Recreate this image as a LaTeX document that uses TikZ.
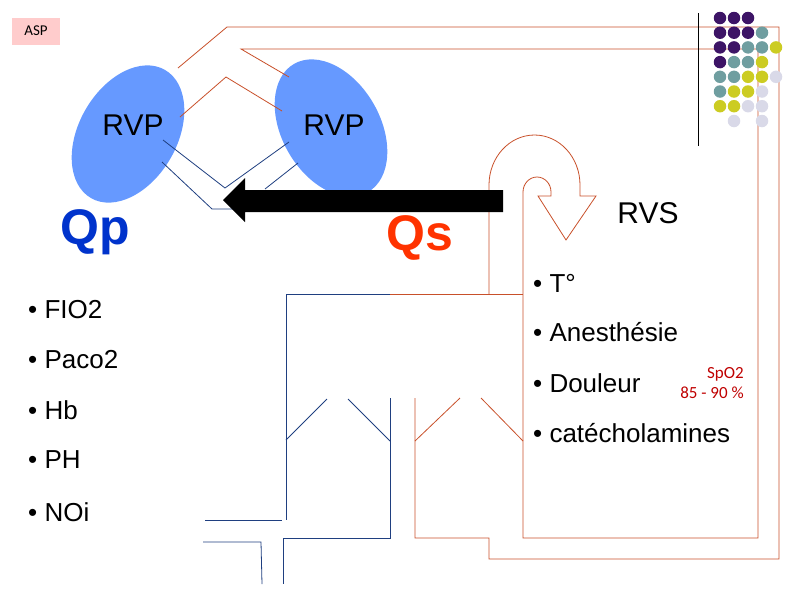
\documentclass[tikz,border=0pt]{standalone}
\usepackage{fontspec}
\setmainfont{Liberation Sans}
\newfontfamily\calfnt{Carlito}
\usetikzlibrary{shapes.geometric}
\definecolor{org}{HTML}{C8502A}
\definecolor{blu}{HTML}{1F3F80}
\definecolor{ell}{HTML}{6699FF}
\definecolor{pp}{HTML}{3D1466}
\definecolor{tt}{HTML}{6F9EA0}
\definecolor{yy}{HTML}{CCCC22}
\definecolor{ll}{HTML}{D9D9E8}
\definecolor{qpc}{HTML}{0033CC}
\definecolor{qsc}{HTML}{FF3300}
\tikzset{
 o/.style={draw=org,line width=0.8pt},
 b/.style={draw=blu,line width=0.8pt},
 ov/.style={ellipse,fill=ell,inner sep=0,minimum width=148pt,minimum height=98pt},
 lab/.style={inner sep=0,font=\fontsize{30}{30}\selectfont},
 bul/.style={inner sep=0,anchor=west,font=\fontsize{26}{26}\selectfont},
 big/.style={inner sep=0,font=\bfseries\fontsize{50}{50}\selectfont},
 dot/.style={circle,inner sep=0,minimum size=12.5pt}
}
\begin{document}
\begin{tikzpicture}[x=1pt,y=-1pt]
\useasboundingbox (0,0) rectangle (800,600);
% ellipses
\node[ov,rotate=60] (e1) at (128,134) {};
\node[ov,rotate=120] (e2) at (331,128) {};
\node[lab] (r1) at (133,125) {RVP};
\node[lab] (r2) at (334,125) {RVP};
% orange circuit
\draw[o] (178,68) -- (227,27) -- (779,27) -- (779,559) -- (489,559) -- (489,538) -- (415,538) -- (415,398);
\draw[o] (415,441) -- (460,398);
\draw[o] (481,398) -- (523,441);
\draw[o] (289,77) -- (241,49) -- (758,49) -- (758,538) -- (523,538) -- (523,192);
\draw[o] (180,117) -- (226,77) -- (282,111);
\draw[o] (390,294) -- (523,294);
% U-turn arrow
\draw[o] (489,294) -- (489,185) arc[start angle=180,end angle=360,x radius=45.5,y radius=50] -- (580,196) -- (596,196) -- (566,240) -- (538,196) -- (551,196) -- (551,192) arc[start angle=0,end angle=-180,x radius=14,y radius=15];
% blue circuit
\draw[b] (163,140) -- (225,188) -- (289,142);
\draw[b] (162,162) -- (212,209) -- (240,209);
\draw[b] (265,189) -- (298,163);
\draw[b] (390,294) -- (286,294) -- (286,520);
\draw[b] (286,440) -- (327,399);
\draw[b] (348,399) -- (390,441);
\draw[b] (390,398) -- (390,538) -- (283,538) -- (283,584);
\draw[b] (205,520) -- (282,520);
\draw[b] (203,542) -- (261,542) -- (262,584);
% black arrow
\fill[black] (503,190) -- (245,190) -- (245,178) -- (223,200) -- (245,222) -- (245,212) -- (503,212) -- cycle;
% texts
\node[fill=red!20,inner sep=0,minimum width=48pt,minimum height=27pt,font=\calfnt\fontsize{15}{15}\selectfont] (asp) at (36,31) {ASP};
\node[big,text=qpc] (qp) at (95,232) {Qp};
\node[big,text=qsc] (qs) at (420,238) {Qs};
\node[lab] (rvs) at (648,213) {RVS};
\node[bul] (b1) at (28,310) {• FIO2};
\node[bul] (b2) at (28,360) {• Paco2};
\node[bul] (b3) at (28,410) {• Hb};
\node[bul] (b4) at (28,460) {• PH};
\node[bul] (b5) at (28,512) {• NOi};
\node[bul] (c1) at (533,283) {• T°};
\node[bul] (c2) at (533,332) {• Anesthésie};
\node[bul] (c3) at (533,383) {• Douleur};
\node[bul] (c4) at (533,433) {• catécholamines};
\node[inner sep=0,text=red!75!black,align=right,font=\calfnt\fontsize{17}{20}\selectfont] (sp) at (712,383) {SpO2\\85 - 90 \%};
% decoration
\draw[black,line width=0.8pt] (698,13) -- (698,146);
\foreach \r/\row in {0/{p,p,p},1/{p,p,p,t},2/{p,p,t,t,y},3/{p,t,t,y},4/{t,t,y,y,l},5/{t,y,y,l},6/{y,y,l,l}}{
  \foreach \c [count=\i from 0] in \row {
    \node[dot,fill=\c\c] (d\r\i) at (720+14*\i,18+14.7*\r) {};
  }
}
\node[dot,fill=ll] (d71) at (734,121) {};
\node[dot,fill=ll] (d73) at (762,121) {};
\end{tikzpicture}
\end{document}
